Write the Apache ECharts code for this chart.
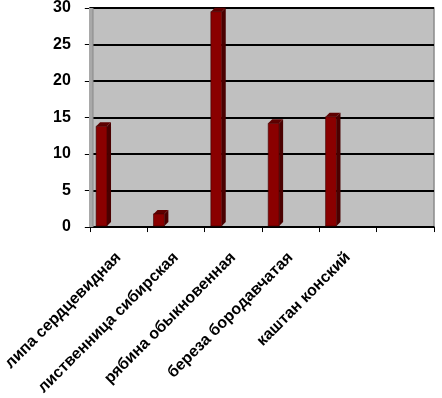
<!DOCTYPE html>
<html><head><meta charset="utf-8">
<script src="https://cdn.jsdelivr.net/npm/echarts@6/dist/echarts.min.js"></script>
<style>html,body{margin:0;padding:0;background:#fff}#c{width:442px;height:398px}</style>
</head><body><div id="c"></div>
<script>
const categories = ['липа сердцевидная', 'лиственница сибирская', 'рябина обыкновенная', 'береза бородавчатая', 'каштан конский', ''];
const values = [13.8, 1.8, 29.5, 14.2, 15.1];
const yTicks = {min: 0, max: 30, interval: 5};

const chart = echarts.init(document.getElementById('c'), null, {renderer: 'canvas'});
const font = 'Liberation Sans, Arial, sans-serif';

function renderBar(params, api) {
  const idx = api.value(0), v = api.value(1);
  const base = api.coord([idx, 0]);
  const top = api.coord([idx, v]);
  const bw = api.size([1, 0])[0];
  const x0 = base[0] - bw / 2 + bw * 0.11;
  const w = bw * 0.19;
  const d = 4;
  const yb = base[1] - 1, yt = top[1];
  return {
    type: 'group',
    children: [
      {type: 'polygon', shape: {points: [[x0 + w, yt], [x0 + w + d, yt - d], [x0 + w + d, yb - d], [x0 + w, yb]]}, style: {fill: '#4a0000'}},
      {type: 'polygon', shape: {points: [[x0, yt], [x0 + d, yt - d], [x0 + w + d, yt - d], [x0 + w, yt]]}, style: {fill: '#5e0000'}},
      {type: 'rect', shape: {x: x0, y: yt, width: w, height: yb - yt}, style: {fill: '#8a0000', stroke: '#3a0000', lineWidth: 0.6}}
    ]
  };
}

chart.setOption({
  backgroundColor: '#ffffff',
  animation: false,
  grid: {left: 88, right: 8, top: 6, bottom: 170, show: true, backgroundColor: '#c0c0c0', borderColor: '#8a8a8a', borderWidth: 1.5},
  xAxis: {
    type: 'category', data: categories, boundaryGap: true,
    axisLine: {lineStyle: {color: '#000', width: 1.5}},
    axisTick: {show: true, length: 5, inside: false, lineStyle: {color: '#000'}},
    axisLabel: {rotate: 45, interval: 0, color: '#000', fontFamily: font, fontWeight: 'bold', fontSize: 16, margin: 28}
  },
  yAxis: {
    type: 'value', min: yTicks.min, max: yTicks.max, interval: yTicks.interval,
    axisLine: {show: true, lineStyle: {color: '#000', width: 1.5}},
    axisTick: {show: true, length: 5, lineStyle: {color: '#000'}},
    axisLabel: {color: '#000', fontFamily: font, fontWeight: 'bold', fontSize: 16, margin: 19},
    splitLine: {show: true, lineStyle: {color: '#000', width: 2}}
  },
  series: [{
    type: 'custom',
    renderItem: renderBar,
    data: values.map((v, i) => [i, v]),
    encode: {x: 0, y: 1},
    z: 5
  }]
});

const p0 = chart.convertToPixel({xAxisIndex: 0, yAxisIndex: 0}, [0, 0]);
const pTop = chart.convertToPixel({yAxisIndex: 0}, 30);
const gx = 88;
chart.setOption({
  graphic: [
    {type: 'rect', z: 1, silent: true, shape: {x: gx + 1, y: pTop, width: 4, height: p0[1] - pTop}, style: {fill: '#a8a8a8'}},
    {type: 'line', z: 1, silent: true, shape: {x1: gx + 5, y1: pTop, x2: gx + 5, y2: p0[1]}, style: {stroke: '#888', lineWidth: 1}}
  ]
});
</script></body></html>
